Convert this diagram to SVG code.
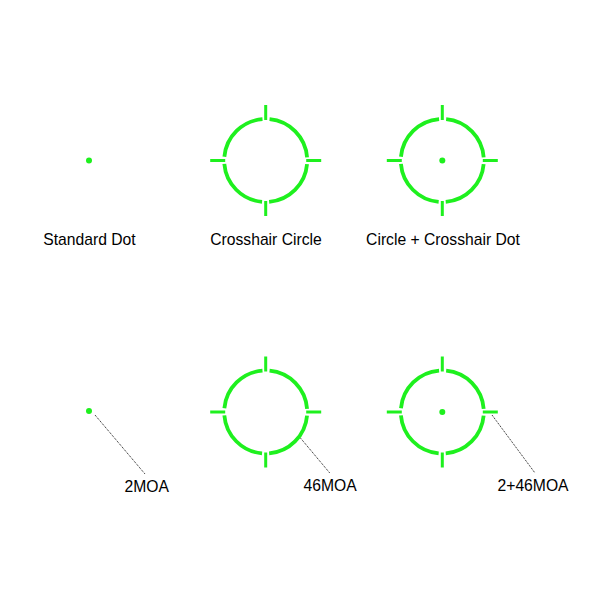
<svg xmlns="http://www.w3.org/2000/svg" xmlns:xlink="http://www.w3.org/1999/xlink" width="600" height="600" viewBox="0 0 600 600">
  <style>
    .ring { fill: none; stroke: #1ef01e; stroke-width: 3.8; stroke-dasharray: 57.99 7.2; stroke-dashoffset: 61.59; }
    .tick { stroke: #1ef01e; stroke-width: 3; fill: none; }
    .dot { fill: #1ef01e; }
    .lead { stroke: #111; stroke-width: 1; stroke-dasharray: 1 1; fill: none; }
    .lbl { font-family: "Liberation Sans", Arial, sans-serif; font-size: 15.7px; fill: #000; }
  </style>
  <defs>
    <g id="reticle">
      <circle class="ring" cx="0" cy="0" r="41.5"/>
      <line class="tick" x1="0" y1="-55.5" x2="0" y2="-40.5"/>
      <line class="tick" x1="0" y1="40.5" x2="0" y2="55.5"/>
      <line class="tick" x1="-55.5" y1="0" x2="-40.5" y2="0"/>
      <line class="tick" x1="40.5" y1="0" x2="55.5" y2="0"/>
    </g>
  </defs>
  <rect width="600" height="600" fill="#fff"/>

  <g id="standard-dot">
    <circle class="dot" cx="89" cy="160.5" r="3"/>
    <text class="lbl" x="89.5" y="245" text-anchor="middle">Standard Dot</text>
  </g>
  <g id="crosshair-circle">
    <use xlink:href="#reticle" transform="translate(265.7,160.5)"/>
    <text class="lbl" x="266" y="245" text-anchor="middle">Crosshair Circle</text>
  </g>
  <g id="circle-crosshair-dot">
    <use xlink:href="#reticle" transform="translate(442.3,160.5)"/>
    <circle class="dot" cx="442.3" cy="160.5" r="3"/>
    <text class="lbl" x="443" y="245" text-anchor="middle">Circle + Crosshair Dot</text>
  </g>

  <g id="dot-2moa">
    <circle class="dot" cx="89" cy="411" r="3"/>
  </g>
  <g id="circle-46moa">
    <use xlink:href="#reticle" transform="translate(265.7,412)"/>
  </g>
  <g id="combo-2-46moa">
    <use xlink:href="#reticle" transform="translate(442.3,412)"/>
    <circle class="dot" cx="442.3" cy="412" r="3"/>
  </g>

  <g id="connectors">
    <line class="lead" x1="95" y1="415" x2="145" y2="474"/>
    <line class="lead" x1="300.7" y1="438.3" x2="330" y2="473.3"/>
    <line class="lead" x1="492" y1="415" x2="535" y2="473"/>
  </g>

  <g id="labels">
    <text class="lbl" x="124.5" y="491.5">2MOA</text>
    <text class="lbl" x="303.5" y="491">46MOA</text>
    <text class="lbl" x="497.5" y="490.5">2+46MOA</text>
  </g>
</svg>
